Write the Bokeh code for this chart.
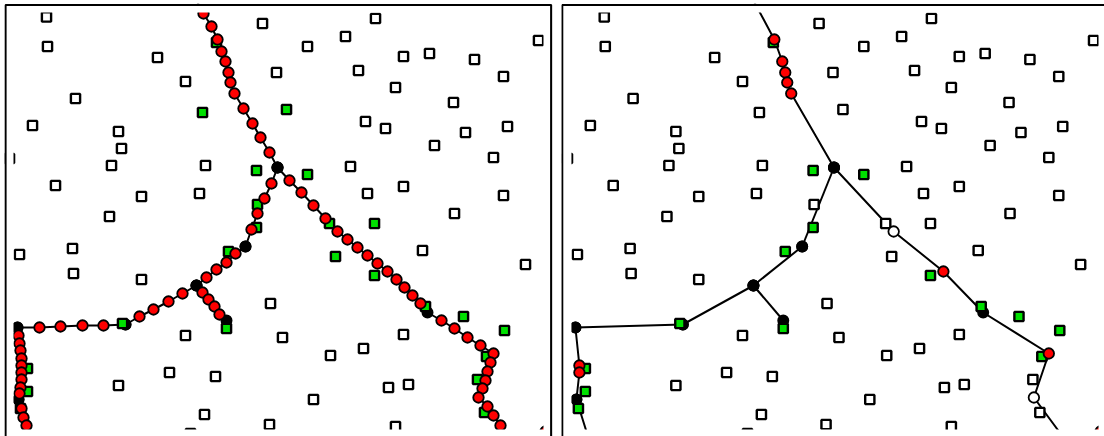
from bokeh.plotting import figure
from bokeh.layouts import row
from bokeh.models import Range1d, BoxAnnotation, ColumnDataSource
from bokeh.embed import file_html
from bokeh.resources import INLINE

# ---------------- data (map positions) ----------------
# white squares (same set in both panels)
sq_x = [46, 47, 157, 185, 75, 32, 118, 121, 111, 205, 55, 141, 199, 109, 262, 276, 9,
        375, 345, 307, 538, 403, 429, 474, 358, 503, 395, 453, 365, 385, 465, 507, 434, 493,
        350, 367, 403, 503, 454,
        19, 72, 73, 141, 270, 185, 282, 169, 215, 118, 204, 269, 190,
        422, 525, 330, 363, 403, 388, 408, 313, 395]
sq_y = [16.5, 46, 57, 81, 98, 125, 131, 148, 165, 165, 185, 196, 193, 216, 23, 72, 158,
        18, 36, 46, 40, 56, 53, 59, 70, 76, 87, 102, 121, 128, 132, 126, 145, 157,
        166, 193, 186, 195, 213,
        254, 248, 273, 279, 303, 335, 337, 372, 376, 385, 414, 424, 433,
        250, 264, 355, 348, 334, 387, 384, 399, 426]

# candidate squares that are green in at least one panel
gq_x = [216, 202, 286, 256, 307, 257, 256, 228, 329, 374, 335, 374, 122, 226, 425, 463, 504, 486, 477, 484, 27, 27, 20]
gq_y = [42, 112, 109, 170, 174, 204, 227, 251, 223, 223, 256, 275, 323, 328, 306, 316, 330, 356, 379, 412, 368, 391, 408]
green_left = [1, 1, 1, 1, 1, 1, 1, 1, 1, 1, 1, 1, 1, 1, 1, 1, 1, 1, 1, 1, 1, 1, 1]
green_right = [1, 0, 0, 1, 1, 0, 1, 1, 0, 0, 0, 1, 1, 1, 1, 1, 1, 1, 0, 0, 1, 1, 1]

# boundary paths: points along each path, kind of each point
# kinds: "j" junction (black), "p" point (red), "o" outside view
path_names = ["north", "east", "j1_j2", "j2_j3", "j3_j4", "j3_j5", "j5_j6", "j6_j7", "j7_south", "corner"]
path_x = [
    [196, 203, 211, 217, 221, 225, 228, 230, 234, 243, 252, 260, 269, 277],
    [277, 289, 301, 313, 325, 337, 347, 357, 367, 377, 387, 396, 404, 412, 420, 427, 441, 454, 467, 480,
     493, 490, 487, 485, 482, 478, 487, 493, 500, 507],
    [277, 271, 264, 257, 251, 245],
    [245, 235, 226, 216, 206, 196],
    [196, 202, 208, 214, 219, 226],
    [196, 182, 168, 153, 139, 125],
    [125, 103, 82, 60, 39, 17],
    [17, 18, 19, 20, 21, 21, 21, 21, 20, 19, 18],
    [18, 21, 23, 26, 29],
    [545],
]
path_y = [
    [0, 13, 26, 39, 51, 61, 72, 82, 93, 108, 123, 137, 152, 167],
    [167, 180, 192, 205, 218, 231, 239, 247, 255, 263, 271, 279, 287, 295, 303, 312, 320, 328, 337, 345,
     353, 362, 371, 380, 388, 397, 406, 415, 425, 436],
    [167, 183, 198, 213, 229, 246],
    [246, 253, 262, 269, 277, 285],
    [285, 292, 299, 306, 314, 320],
    [285, 293, 301, 309, 316, 324],
    [324, 325, 325, 326, 327, 327],
    [327, 335, 343, 350, 358, 365, 372, 379, 387, 393, 399],
    [399, 408, 417, 425, 434],
    [431],
]
path_kind = [
    ["o"] + ["p"] * 12 + ["j"],
    ["j"] + ["p"] * 14 + ["j"] + ["p"] * 13 + ["o"],
    ["j", "p", "p", "p", "p", "j"],
    ["j", "p", "p", "p", "p", "j"],
    ["j", "p", "p", "p", "p", "j"],
    ["j", "p", "p", "p", "p", "j"],
    ["j", "p", "p", "p", "p", "j"],
    ["j"] + ["p"] * 9 + ["j"],
    ["j", "p", "p", "p", "o"],
    ["p"],
]
# simplified version (right panel): kept point indices and their kind
# kinds: "j" black, "r" red, "w" white, "o" outside view
simp_idx = [
    [0, 3, 5, 6, 7, 8, 13],
    [0, 5, 10, 15, 20, 25, 29],
    [0, 5], [0, 5], [0, 5], [0, 5], [0, 5],
    [0, 5, 6, 10],
    [0, 4],
    [0],
]
simp_kind = [
    ["o", "r", "r", "r", "r", "r", "j"],
    ["j", "w", "r", "j", "r", "w", "o"],
    ["j", "j"], ["j", "j"], ["j", "j"], ["j", "j"], ["j", "j"],
    ["j", "r", "r", "j"],
    ["j", "o"],
    ["r"],
]

# visible map window (inner clip) and panel borders
VIEW_X = (13, 543)
VIEW_Y = (12, 429)

RED = "#ff0000"
GREEN = "#00e000"


def base_fig(width, bl, br, xr, border_left, border_right):
    p = figure(width=width, height=436, x_range=Range1d(*xr), y_range=Range1d(436, 3),
               x_axis_type=None, y_axis_type=None, toolbar_location=None, output_backend="svg",
               min_border_left=bl, min_border_right=br, min_border_top=3, min_border_bottom=0,
               title=None)
    p.outline_line_color = None
    p.background_fill_color = "white"
    p.border_fill_color = "white"
    return p, (xr, border_left, border_right)


def finish(p, info):
    xr, border_left, border_right = info
    # white masks outside the visible map window
    masks = [
        (xr[0] - 5, VIEW_X[0], -10, 460),
        (VIEW_X[1], xr[1] + 5, -10, 460),
        (xr[0] - 5, xr[1] + 5, -10, VIEW_Y[0]),
        (xr[0] - 5, xr[1] + 5, VIEW_Y[1], 460),
    ]
    for l, r, t, b in masks:
        p.add_layout(BoxAnnotation(left=l, right=r, top=t, bottom=b, fill_color="white",
                                   fill_alpha=1, line_color=None, level="overlay"))
    p.add_layout(BoxAnnotation(left=border_left, right=border_right, top=4.5, bottom=470,
                               fill_alpha=0, fill_color=None, line_color="black",
                               line_width=2.2, line_alpha=1, level="overlay"))


def draw(p, lines_x, lines_y, pts, greens):
    p.multi_line(lines_x, lines_y, line_color="black", line_width=2)
    jx = [x for x, y, k in pts if k == "j"]
    jy = [y for x, y, k in pts if k == "j"]
    p.scatter(jx, jy, marker="circle", size=10.5, fill_color="black", line_color="black", line_width=1.5)
    sx = list(sq_x) + [x for x, g in zip(gq_x, greens) if not g]
    sy = list(sq_y) + [y for y, g in zip(gq_y, greens) if not g]
    p.scatter(sx, sy, marker="square", size=9.2, fill_color="white", line_color="black", line_width=2.4)
    gx = [x for x, g in zip(gq_x, greens) if g]
    gy = [y for y, g in zip(gq_y, greens) if g]
    p.scatter(gx, gy, marker="square", size=9.2, fill_color=GREEN, line_color="black", line_width=2.4)
    cx = [x for x, y, k in pts if k in ("p", "r", "w")]
    cy = [y for x, y, k in pts if k in ("p", "r", "w")]
    cc = ["white" if k == "w" else RED for x, y, k in pts if k in ("p", "r", "w")]
    src = ColumnDataSource(dict(x=cx, y=cy, c=cc))
    p.scatter("x", "y", source=src, marker="circle", size=10.5, fill_color="c",
              line_color="black", line_width=1.8)


# left panel: full boundary
left, info_l = base_fig(553, 4, 1, (4, 552), 5, 550.7)
pts_l = []
for xs, ys, ks in zip(path_x, path_y, path_kind):
    pts_l += list(zip(xs, ys, ks))
draw(left, path_x, path_y, pts_l, green_left)
finish(left, info_l)

# right panel: simplified boundary
right, info_r = base_fig(551, 8, 0, (3, 549), 3.7, 620)
sl_x, sl_y, pts_r = [], [], []
for xs, ys, idx, ks in zip(path_x, path_y, simp_idx, simp_kind):
    sl_x.append([xs[i] for i in idx])
    sl_y.append([ys[i] for i in idx])
    pts_r += [(xs[i], ys[i], k) for i, k in zip(idx, ks)]
draw(right, sl_x, sl_y, pts_r, green_right)
finish(right, info_r)

layout = row(left, right)
open("out.html", "w").write(file_html(layout, INLINE))
